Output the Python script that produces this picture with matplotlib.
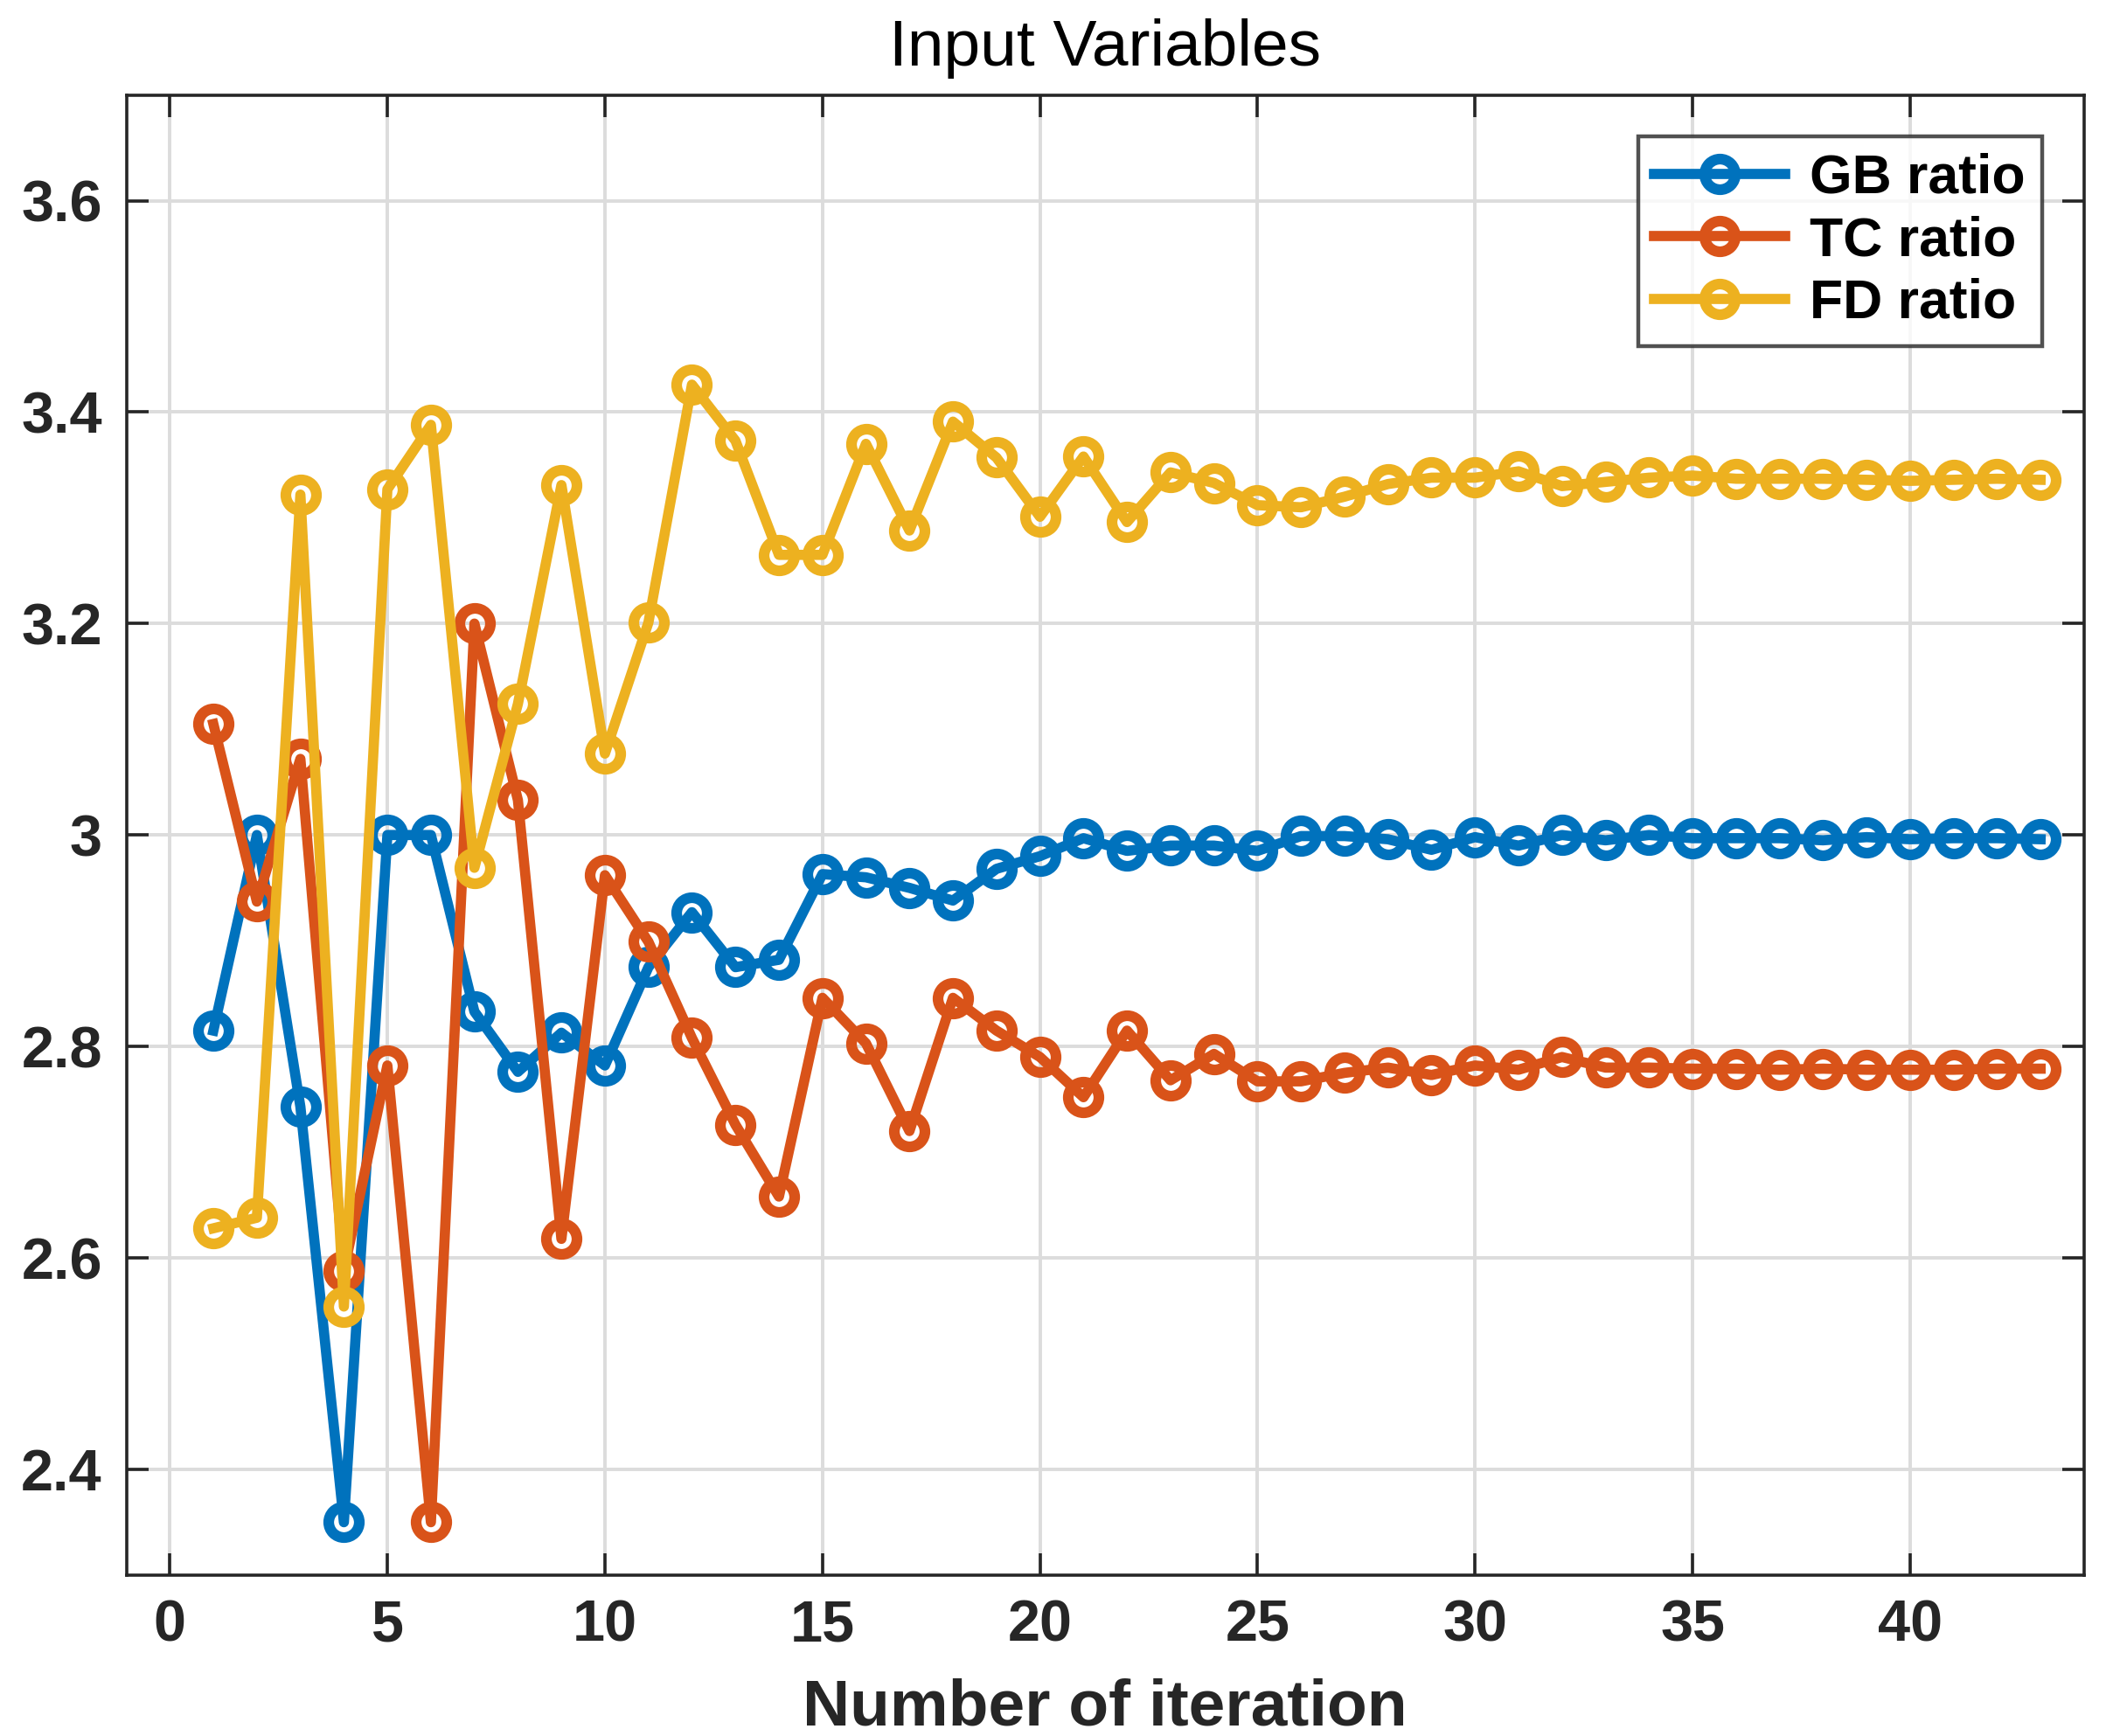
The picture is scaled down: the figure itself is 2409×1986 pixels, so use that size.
import matplotlib
matplotlib.use("Agg")
import matplotlib.pyplot as plt

plt.rcParams['font.family'] = ['Liberation Sans', 'DejaVu Sans']

# iteration numbers
iterations = list(range(1, 44))

gb_ratio = [2.815, 3.000, 2.743, 2.350, 3.000, 3.000, 2.833, 2.776, 2.813, 2.782,
            2.875, 2.927, 2.875, 2.882, 2.963, 2.960, 2.950, 2.938, 2.968, 2.980,
            2.997, 2.985, 2.990, 2.990, 2.985, 2.999, 2.999, 2.996, 2.986, 2.998,
            2.990, 3.000, 2.995, 3.000, 2.997, 2.997, 2.997, 2.995, 2.998, 2.996,
            2.997, 2.997, 2.996]

tc_ratio = [3.105, 2.937, 3.072, 2.588, 2.782, 2.350, 3.200, 3.033, 2.618, 2.962,
            2.899, 2.808, 2.726, 2.658, 2.846, 2.803, 2.720, 2.846, 2.815, 2.790,
            2.752, 2.815, 2.768, 2.793, 2.767, 2.767, 2.775, 2.780, 2.773, 2.782,
            2.778, 2.790, 2.780, 2.780, 2.779, 2.779, 2.778, 2.779, 2.778, 2.778,
            2.778, 2.779, 2.779]

fd_ratio = [2.628, 2.638, 3.322, 2.554, 3.327, 3.388, 2.969, 3.124, 3.331, 3.077,
            3.201, 3.426, 3.373, 3.265, 3.265, 3.370, 3.288, 3.391, 3.357, 3.301,
            3.358, 3.296, 3.343, 3.333, 3.312, 3.310, 3.320, 3.332, 3.338, 3.338,
            3.344, 3.330, 3.334, 3.338, 3.340, 3.337, 3.337, 3.337, 3.336, 3.335,
            3.336, 3.337, 3.336]

series = [("GB ratio", gb_ratio, "#0072BD"),
          ("TC ratio", tc_ratio, "#D95319"),
          ("FD ratio", fd_ratio, "#EDB120")]

fig = plt.figure(figsize=(12.045, 9.93), dpi=200)
ax = fig.add_axes([0.060, 0.0927, 0.9296, 0.8526])

for name, vals, col in series:
    ax.plot(iterations, vals, "-o", color=col, lw=4.2, ms=12.6, mew=4.4,
            mfc="none", label=name)

ax.set_xlim(-1, 44)
ax.set_ylim(2.3, 3.7)
ax.set_xticks(range(0, 45, 5))
ax.set_yticks([2.4, 2.6, 2.8, 3.0, 3.2, 3.4, 3.6])
ax.set_yticklabels(["2.4", "2.6", "2.8", "3", "3.2", "3.4", "3.6"])

dark = (0.15, 0.15, 0.15)
ax.grid(True, color="#dcdcdc", lw=1.4)
ax.set_axisbelow(True)
for s in ax.spines.values():
    s.set_color(dark)
    s.set_linewidth(1.3)
ax.tick_params(direction="in", length=9, width=1.3, colors=dark,
               top=True, right=True, labelsize=24, pad=10)
for lab in ax.get_xticklabels() + ax.get_yticklabels():
    lab.set_fontweight("bold")

ax.set_title("Input Variables", fontsize=27, pad=12)
ax.set_xlabel("Number of iteration", fontsize=27, fontweight="bold",
              color=dark, labelpad=10)

leg = ax.legend(loc="upper right", bbox_to_anchor=(0.9785, 0.972),
                prop={"weight": "bold", "size": 22.5}, fancybox=False,
                edgecolor=dark, handlelength=2.4, labelspacing=0.2,
                borderpad=0.3, handletextpad=0.45, borderaxespad=0.0)
leg.get_frame().set_linewidth(1.6)

fig.savefig("out.png", dpi=200, facecolor="white")
